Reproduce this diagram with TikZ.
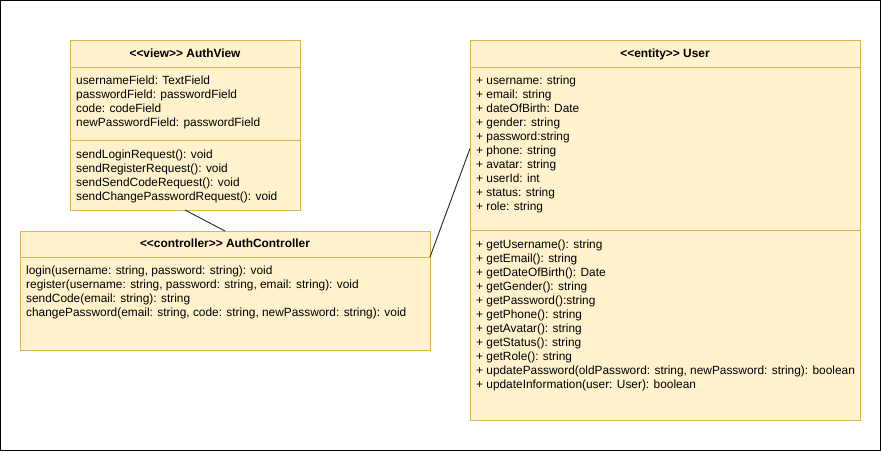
\documentclass[tikz,border=0pt]{standalone}
\usepackage{fontspec}
\setmainfont{Liberation Sans}
\definecolor{umlfill}{HTML}{FFF2CC}
\definecolor{umlline}{HTML}{D6B656}
\tikzset{
  compartment/.style={rectangle,draw=umlline,fill=umlfill,line width=0.9pt,anchor=north west,inner sep=0pt,outer sep=0pt},
  classname/.style={compartment,font=\fontsize{11.9}{14}\selectfont\bfseries,text height=8.5pt,text depth=1pt},
  member/.style={anchor=base west,inner sep=0pt,font=\fontsize{11.88}{14}\selectfont},
  assoc/.style={draw=black!85,line width=0.9pt}
}
\begin{document}
\begin{tikzpicture}[x=1pt,y=1pt]
\useasboundingbox (0,0) rectangle (881,-451);
\draw[line width=1pt] (0.5,-0.5) rectangle (880.5,-450.5);

% view class
\node[classname,minimum width=230pt,minimum height=27pt] (viewHead) at (70,-40) {<{}<view>{}> AuthView};
\node[compartment,minimum width=230pt,minimum height=73pt] (viewAttr) at (70,-67) {};
\node[compartment,minimum width=230pt,minimum height=70pt] (viewOps) at (70,-140) {};
\node[member] (va1) at (76,-84) {usernameField: TextField};
\node[member] (va2) at (76,-98) {passwordField: passwordField};
\node[member] (va3) at (76,-112) {code: codeField};
\node[member] (va4) at (76,-126) {newPasswordField: passwordField};
\node[member] (vm1) at (76,-158) {sendLoginRequest(): void};
\node[member] (vm2) at (76,-172) {sendRegisterRequest(): void};
\node[member] (vm3) at (76,-186) {sendSendCodeRequest(): void};
\node[member] (vm4) at (76,-200) {sendChangePasswordRequest(): void};

% controller class
\node[classname,minimum width=410pt,minimum height=26pt] (ctrlHead) at (20,-231) {<{}<controller>{}> AuthController};
\node[compartment,minimum width=410pt,minimum height=93pt] (ctrlOps) at (20,-257) {};
\node[member] (cm1) at (26,-274) {login(username: string, password: string): void};
\node[member] (cm2) at (26,-288) {register(username: string, password: string, email: string): void};
\node[member] (cm3) at (26,-302) {sendCode(email: string): string};
\node[member] (cm4) at (26,-316) {changePassword(email: string, code: string, newPassword: string): void};

% entity class
\node[classname,minimum width=390pt,minimum height=27pt] (userHead) at (470,-40) {<{}<entity>{}> User};
\node[compartment,minimum width=390pt,minimum height=163pt] (userAttr) at (470,-67) {};
\node[compartment,minimum width=390pt,minimum height=190pt] (userOps) at (470,-230) {};
\node[member] (ua1) at (476,-84) {+ username: string};
\node[member] (ua2) at (476,-98) {+ email: string};
\node[member] (ua3) at (476,-112) {+ dateOfBirth: Date};
\node[member] (ua4) at (476,-126) {+ gender: string};
\node[member] (ua5) at (476,-140) {+ password:string};
\node[member] (ua6) at (476,-154) {+ phone: string};
\node[member] (ua7) at (476,-168) {+ avatar: string};
\node[member] (ua8) at (476,-182) {+ userId: int};
\node[member] (ua9) at (476,-196) {+ status: string};
\node[member] (ua10) at (476,-210) {+ role: string};
\node[member] (um1) at (476,-248.5) {+ getUsername(): string};
\node[member] (um2) at (476,-262.5) {+ getEmail(): string};
\node[member] (um3) at (476,-276.5) {+ getDateOfBirth(): Date};
\node[member] (um4) at (476,-290.5) {+ getGender(): string};
\node[member] (um5) at (476,-304.5) {+ getPassword():string};
\node[member] (um6) at (476,-318.5) {+ getPhone(): string};
\node[member] (um7) at (476,-332.5) {+ getAvatar(): string};
\node[member] (um8) at (476,-346.5) {+ getStatus(): string};
\node[member] (um9) at (476,-360.5) {+ getRole(): string};
\node[member] (um10) at (476,-374.5) {+ updatePassword(oldPassword: string, newPassword: string): boolean};
\node[member] (um11) at (476,-388.5) {+ updateInformation(user: User): boolean};

% associations
\draw[assoc] (viewOps.south) -- (ctrlHead.north);
\draw[assoc] (ctrlHead.south east) -- (userAttr.west);

\end{tikzpicture}
\end{document}
